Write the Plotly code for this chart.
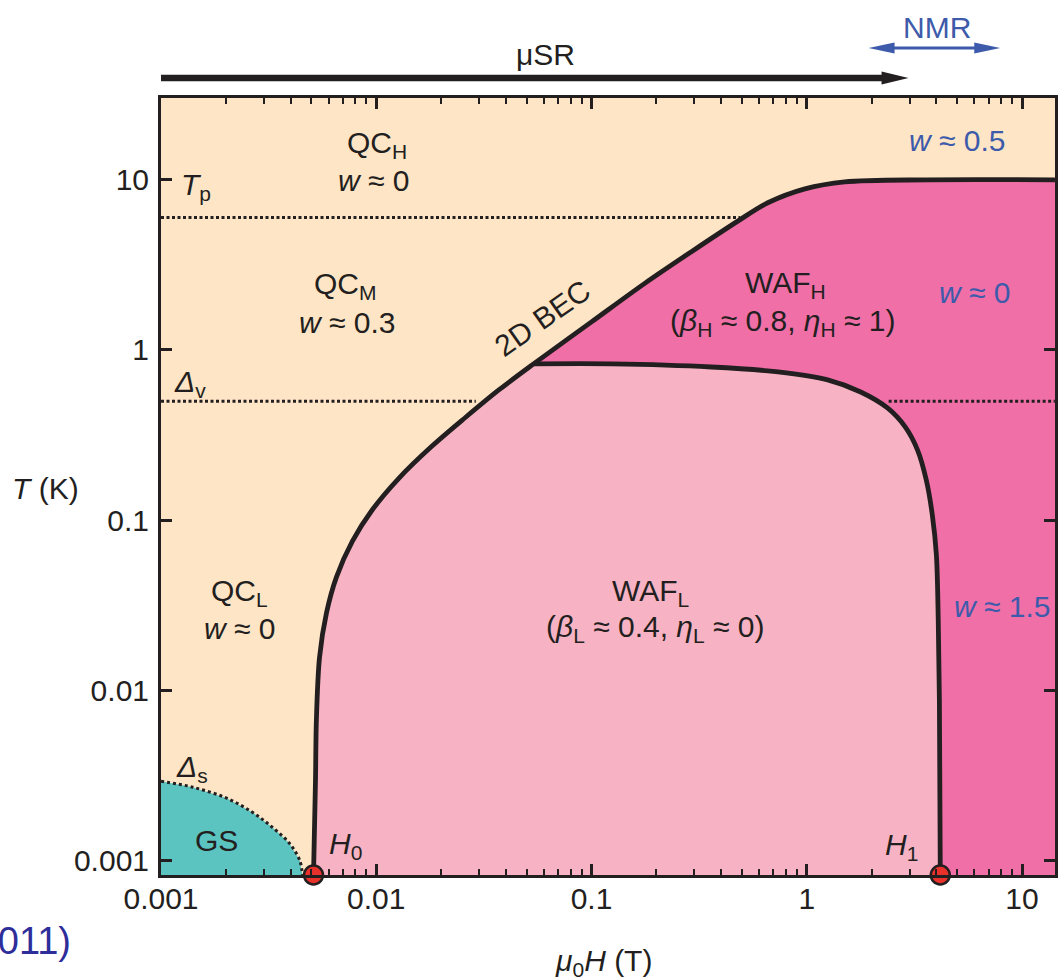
import math
import plotly.graph_objects as go

# ---------------------------------------------------------------
# Phase diagram data: field (T) and temperature (K)
# ---------------------------------------------------------------
# Lower critical boundary starting at H0, bending into the 2D BEC line
h0_field = [0.00511, 0.00522, 0.00527, 0.00545, 0.00587, 0.00653, 0.00775,
            0.00957, 0.01276, 0.01816, 0.0261, 0.0371, 0.0538, 0.100,
            0.178, 0.290, 0.480, 0.659, 0.98, 1.50, 3.63, 14.2]
h0_temp = [0.00081, 0.00296, 0.00667, 0.0156, 0.0284, 0.0462, 0.0752,
           0.1146, 0.1766, 0.2723, 0.4036, 0.582, 0.828, 1.462,
           2.48, 3.77, 5.74, 7.33, 8.85, 9.73, 10.0, 10.0]
JUNCTION = 12  # index where the WAF_L / WAF_H boundary leaves the BEC line

# WAF_L / WAF_H boundary ending at H1
h1_field = [0.0538, 0.124, 0.360, 0.735, 1.25, 1.78, 2.37, 2.87, 3.27,
            3.59, 3.83, 4.00, 4.08, 4.13, 4.17]
h1_temp = [0.828, 0.828, 0.794, 0.743, 0.667, 0.566, 0.456, 0.352, 0.258,
           0.172, 0.107, 0.0622, 0.0258, 0.00873, 0.00081]

# Spin-gap (GS) boundary Delta_s
ds_field = [0.001, 0.001406, 0.00202, 0.00267, 0.00330, 0.00395, 0.00441, 0.00454]
ds_temp = [0.00292, 0.00269, 0.00232, 0.00191, 0.00156, 0.00126, 0.00100, 0.00082]

# Crossover scales
T_P = 6.0
TP_FIELD = [0.001, 0.49]
DELTA_V = 0.5
DV_FIELD_LOW = [0.001, 0.029]
DV_FIELD_HIGH = [2.40, 14.2]

# Critical fields
H_CRIT = [0.00511, 4.17]

# Axes
X_RANGE = [-3, 1.153]
Y_RANGE = [-3.086, 1.481]
x_tickvals = [0.001, 0.01, 0.1, 1, 10]
x_ticktext = ["0.001", "0.01", "0.1", "1", "10"]
y_tickvals = [0.001, 0.01, 0.1, 1, 10]
y_ticktext = ["0.001", "0.01", "0.1", "1", "10"]
x_minor = [m * 10.0 ** e for e in range(-3, 2) for m in range(2, 10)
           if math.log10(m * 10.0 ** e) < X_RANGE[1]]

# Colours
PEACH = "#FEE5C6"
PINK_L = "#F7B3C3"
PINK_H = "#F06FA7"
TEAL = "#5BC4C1"
BLUE = "#3D5BAA"
INK = "#231F20"
FONT = "Liberation Sans, Arial, Helvetica, sans-serif"
FS = 30

# Layout geometry (pixels)
W, H = 1058, 980
ML, MR, MT, MB = 161, 0, 98, 105
PW, PH = W - ML - MR, H - MT - MB

LOW = 0.0005  # below the axis floor, used to close the filled regions
T_FLOOR = 10 ** Y_RANGE[0]

fig = go.Figure()

# WAF_L region
waf_l_x = [h0_field[0]] + h0_field[:JUNCTION + 1] + h1_field[1:] + [h1_field[-1]]
waf_l_y = [LOW] + h0_temp[:JUNCTION + 1] + h1_temp[1:] + [LOW]
fig.add_trace(go.Scatter(x=waf_l_x, y=waf_l_y, fill="toself", fillcolor=PINK_L,
                         mode="lines", line=dict(width=0), hoverinfo="skip"))

# WAF_H region
waf_h_x = h0_field[JUNCTION:] + [20, 20, h1_field[-1]] + h1_field[::-1]
waf_h_y = h0_temp[JUNCTION:] + [10.0, LOW, LOW] + h1_temp[::-1]
fig.add_trace(go.Scatter(x=waf_h_x, y=waf_h_y, fill="toself", fillcolor=PINK_H,
                         mode="lines", line=dict(width=0), hoverinfo="skip"))

# GS region
gs_x = [0.0009] + ds_field + [0.0009]
gs_y = [ds_temp[0]] + ds_temp + [LOW]
fig.add_trace(go.Scatter(x=gs_x, y=gs_y, fill="toself", fillcolor=TEAL,
                         mode="lines", line=dict(width=0), hoverinfo="skip"))

# Dotted crossover lines
dot = dict(color=INK, width=3, dash="3px,2.5px")
fig.add_trace(go.Scatter(x=TP_FIELD, y=[T_P, T_P], mode="lines", line=dot, hoverinfo="skip"))
fig.add_trace(go.Scatter(x=DV_FIELD_LOW, y=[DELTA_V, DELTA_V], mode="lines", line=dot, hoverinfo="skip"))
fig.add_trace(go.Scatter(x=DV_FIELD_HIGH, y=[DELTA_V, DELTA_V], mode="lines", line=dot, hoverinfo="skip"))
fig.add_trace(go.Scatter(x=ds_field, y=ds_temp, mode="lines",
                         line=dict(color=INK, width=3, dash="3px,3px", shape="spline"),
                         hoverinfo="skip"))

# Solid phase boundaries
solid = dict(color=INK, width=4.8, shape="spline", smoothing=0.9)
fig.add_trace(go.Scatter(x=h0_field, y=h0_temp, mode="lines", line=solid, hoverinfo="skip"))
fig.add_trace(go.Scatter(x=h1_field, y=h1_temp, mode="lines", line=solid, hoverinfo="skip"))

# Critical fields H0 and H1
fig.add_trace(go.Scatter(x=H_CRIT, y=[T_FLOOR, T_FLOOR], mode="markers", cliponaxis=False,
                         marker=dict(size=19, color="#E8312A", line=dict(color=INK, width=2.5)),
                         hoverinfo="skip"))


def px(xp):
    return (xp - ML) / PW


def py(yp):
    return (H - MB - yp) / PH


annotations = []


def label(text, xp, yp, color=INK, size=FS, angle=0, xanchor="center"):
    annotations.append(dict(text=text, x=px(xp), y=py(yp), xref="paper", yref="paper",
                            showarrow=False, xanchor=xanchor, yanchor="middle",
                            textangle=angle, font=dict(family=FONT, size=size, color=color)))


label("QC<sub>H</sub>", 378, 145)
label("<i>w</i> ≈ 0", 375, 180)
label("<i>T</i><sub>p</sub>", 196, 187)
label("QC<sub>M</sub>", 346, 285)
label("<i>w</i> ≈ 0.3", 348, 322)
label("<i>Δ</i><sub>v</sub>", 190, 383)
label("2D BEC", 543, 318, angle=-35)
label("WAF<sub>H</sub>", 788, 284)
label("(<i>β</i><sub>H</sub> ≈ 0.8, <i>η</i><sub>H</sub> ≈ 1)", 785, 322)
label("QC<sub>L</sub>", 240, 592)
label("<i>w</i> ≈ 0", 240, 628)
label("WAF<sub>L</sub>", 652, 592)
label("(<i>β</i><sub>L</sub> ≈ 0.4, <i>η</i><sub>L</sub> ≈ 0)", 657, 628)
label("<i>Δ</i><sub>s</sub>", 192, 768)
label("GS", 217, 840)
label("<i>H</i><sub>0</sub>", 346, 845)
label("<i>H</i><sub>1</sub>", 904, 846)
label("<i>w</i> ≈ 0.5", 960, 140, color=BLUE)
label("<i>w</i> ≈ 0", 978, 292, color=BLUE)
label("<i>w</i> ≈ 1.5", 1005, 606, color=BLUE)
label("NMR", 940, 27, color=BLUE)
label("μSR", 547, 55)
label("<i>T</i> (K)", 45, 488)
label("<i>μ</i><sub>0</sub><i>H</i> (T)", 605, 962)
label("(2011)", 73, 941, color="#2E2E9A", size=38, xanchor="right")

# Probe-range arrows above the frame
shapes = [
    dict(type="line", xref="paper", yref="paper", x0=px(161), x1=px(888), y0=py(78), y1=py(78),
         line=dict(color=INK, width=6.5)),
    dict(type="path", xref="paper", yref="paper", fillcolor=INK, line=dict(width=0),
         path=f"M {px(884)},{py(71.5)} L {px(911)},{py(78)} L {px(884)},{py(84.5)} Z"),
    dict(type="line", xref="paper", yref="paper", x0=px(885), x1=px(990), y0=py(48), y1=py(48),
         line=dict(color=BLUE, width=3)),
    dict(type="path", xref="paper", yref="paper", fillcolor=BLUE, line=dict(width=0),
         path=f"M {px(897)},{py(42.5)} L {px(871)},{py(48)} L {px(897)},{py(53.5)} Z"),
    dict(type="path", xref="paper", yref="paper", fillcolor=BLUE, line=dict(width=0),
         path=f"M {px(977)},{py(42.5)} L {px(1003)},{py(48)} L {px(977)},{py(53.5)} Z"),
]

# Framed log axes with inward ticks on all four sides
axis_common = dict(type="log", showline=True, linecolor=INK, linewidth=3, mirror="allticks",
                   ticks="inside", ticklen=11, tickwidth=2.6, tickcolor=INK,
                   layer="above traces", showgrid=False, zeroline=False,
                   tickfont=dict(family=FONT, size=FS, color=INK))

fig.update_layout(
    width=W, height=H,
    margin=dict(l=ML, r=MR, t=MT, b=MB),
    paper_bgcolor="white", plot_bgcolor=PEACH,
    showlegend=False,
    xaxis=dict(range=X_RANGE, tickvals=x_tickvals, ticktext=x_ticktext,
               ticklabelstandoff=-5,
               minor=dict(tickvals=x_minor, ticks="inside", ticklen=6, tickwidth=2.2,
                          tickcolor=INK, showgrid=False),
               **axis_common),
    yaxis=dict(range=Y_RANGE, tickvals=y_tickvals, ticktext=y_ticktext,
               ticklabelstandoff=3, **axis_common),
    annotations=annotations,
    shapes=shapes,
)

fig.write_html("out.html")
